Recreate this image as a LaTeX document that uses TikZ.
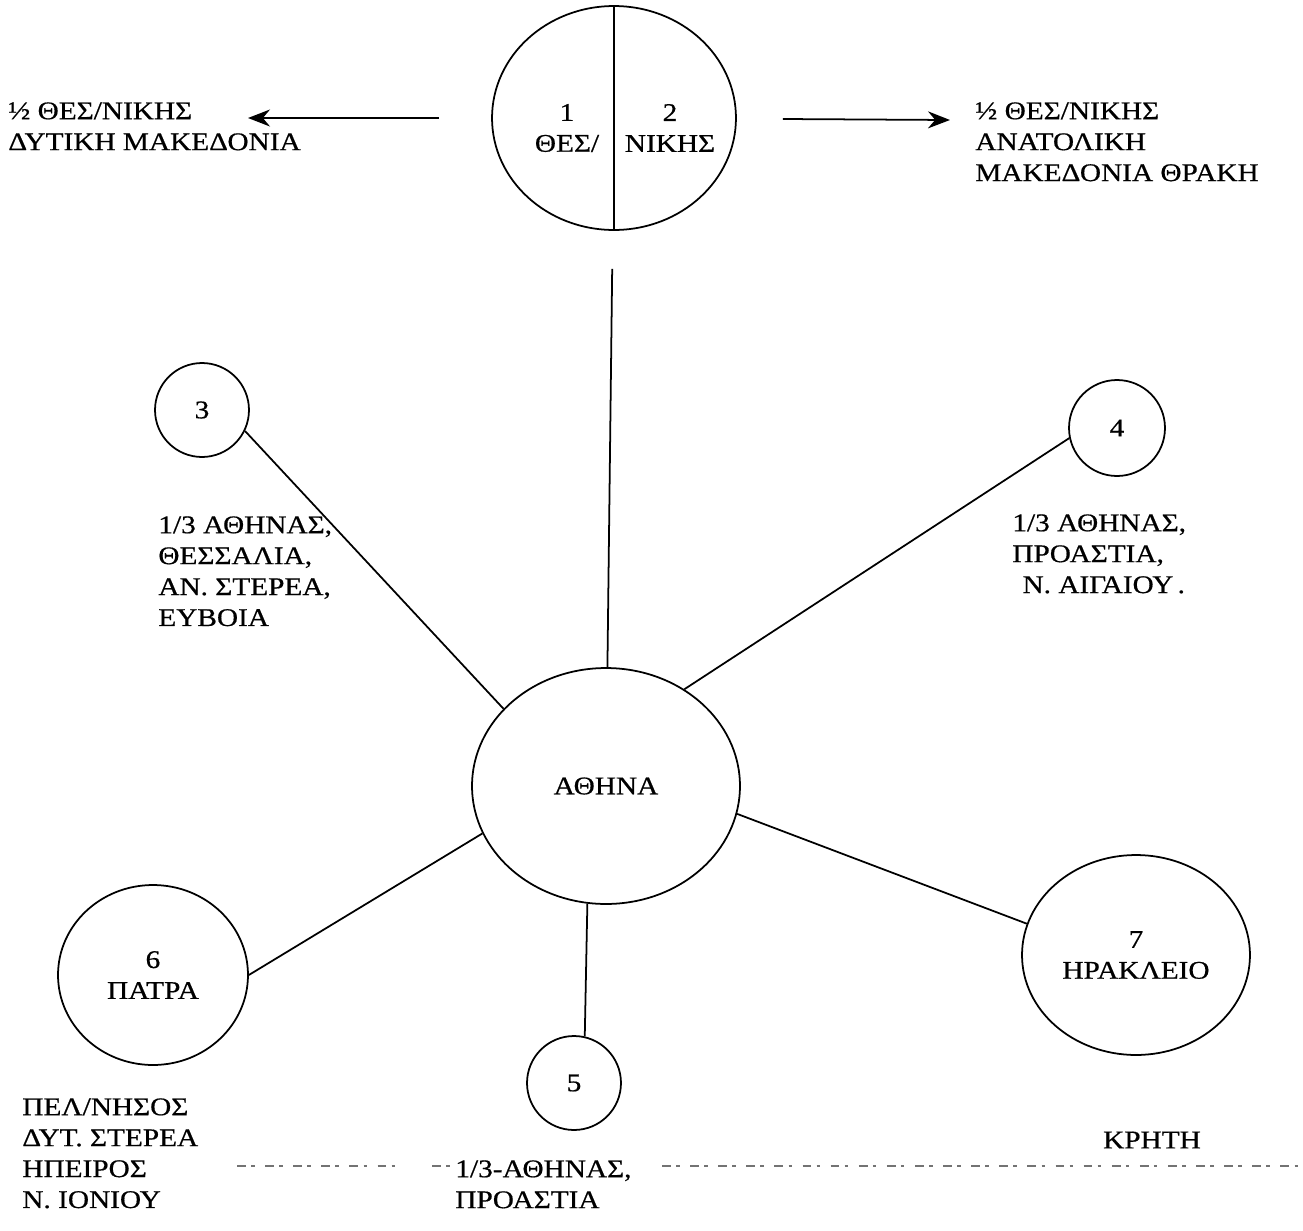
\documentclass[tikz,border=0pt]{standalone}
\usepackage{fontspec}
\setmainfont{Liberation Serif}[FakeStretch=1.15, FakeBold=0.6]
\usepackage{tikz}
\usetikzlibrary{positioning,arrows.meta,shapes.geometric,calc}

\begin{document}
\begin{tikzpicture}[x=0.02cm, y=-0.02cm,
    every node/.style={font=\fontsize{14.5}{17.6}\selectfont},
    station/.style={draw, ellipse, line width=1pt, inner sep=0pt},
    area/.style={align=left, anchor=north west, inner sep=0pt},
    link/.style={line width=1pt},
    arr/.style={line width=1pt, -{Stealth[length=0.44cm, width=0.34cm]}},
    scanline/.style={black!55, line width=0.6pt, dash pattern=on 5pt off 3pt on 2pt off 6pt}]
  \fill[white] (0,0) rectangle (1303,1231);
  \useasboundingbox (0,0) rectangle (1303,1231);

  % split hub at the top
  \node[station, minimum width=4.88cm, minimum height=4.48cm] (thes) at (614,118) {};
  \draw[link] (thes.north) -- (thes.south);
  \node[align=center] (thesL) at (567,128) {1\\ΘΕΣ/};
  \node[align=center] (thesR) at (670,128) {2\\ΝΙΚΗΣ};

  % centre
  \node[station, minimum width=5.36cm, minimum height=4.72cm] (athina) at (606,786) {ΑΘΗΝΑ};

  % outer stations
  \node[station, minimum size=1.88cm] (c3) at (202,410) {3};
  \node[station, minimum size=1.92cm] (c4) at (1117,428) {4};
  \node[station, minimum size=1.88cm] (c5) at (574,1083) {5};
  \node[station, minimum width=3.8cm, minimum height=3.6cm, align=center] (c6) at (153,975) {6\\ΠΑΤΡΑ};
  \node[station, minimum width=4.56cm, minimum height=4cm, align=center] (c7) at (1136,955) {7\\ΗΡΑΚΛΕΙΟ};

  % areas served
  \node[area] (west) at (8,102) {½ ΘΕΣ/ΝΙΚΗΣ\\ΔΥΤΙΚΗ ΜΑΚΕΔΟΝΙΑ};
  \node[area] (east) at (975,102) {½ ΘΕΣ/ΝΙΚΗΣ\\ΑΝΑΤΟΛΙΚΗ\\ΜΑΚΕΔΟΝΙΑ ΘΡΑΚΗ};
  \node[area] (lab3) at (158,516) {1/3 ΑΘΗΝΑΣ,\\ΘΕΣΣΑΛΙΑ,\\ΑΝ. ΣΤΕΡΕΑ,\\ΕΥΒΟΙΑ};
  \node[area] (lab4) at (1012,514) {1/3 ΑΘΗΝΑΣ,\\ΠΡΟΑΣΤΙΑ,\\\hspace*{0.4em}Ν. ΑΙΓΑΙΟΥ\,.};
  \node[area] (lab6) at (22,1098) {ΠΕΛ/ΝΗΣΟΣ\\ΔΥΤ. ΣΤΕΡΕΑ\\ΗΠΕΙΡΟΣ\\Ν. ΙΟΝΙΟΥ};
  \node[area] (lab5) at (455,1160) {1/3-ΑΘΗΝΑΣ,\\ΠΡΟΑΣΤΙΑ};
  \node (lab7) at (1152,1140) {ΚΡΗΤΗ};

  % arrows to the halves
  \coordinate (wtip) at (248,118);
  \coordinate (etip) at (950,120);
  \draw[arr, shorten <=1.04cm] (thes) -- (wtip);
  \draw[arr, shorten <=0.92cm] (thes) -- (etip);

  % links to the centre
  \draw[link, shorten >=0.76cm] (athina) -- (thes);
  \draw[link] (c3.-26) -- (athina.143);
  \draw[link] (c4.192) -- (athina.51);
  \draw[link] (c6.0) -- (athina.201);
  \draw[link] (athina.-99) -- (c5.77);
  \draw[link] (athina.-12) -- (c7.164);

  % broken rule along the bottom
  \foreach \a/\b in {237/400, 432/450, 662/1300}
    \draw[scanline] (\a,1166) -- (\b,1166);
\end{tikzpicture}
\end{document}
